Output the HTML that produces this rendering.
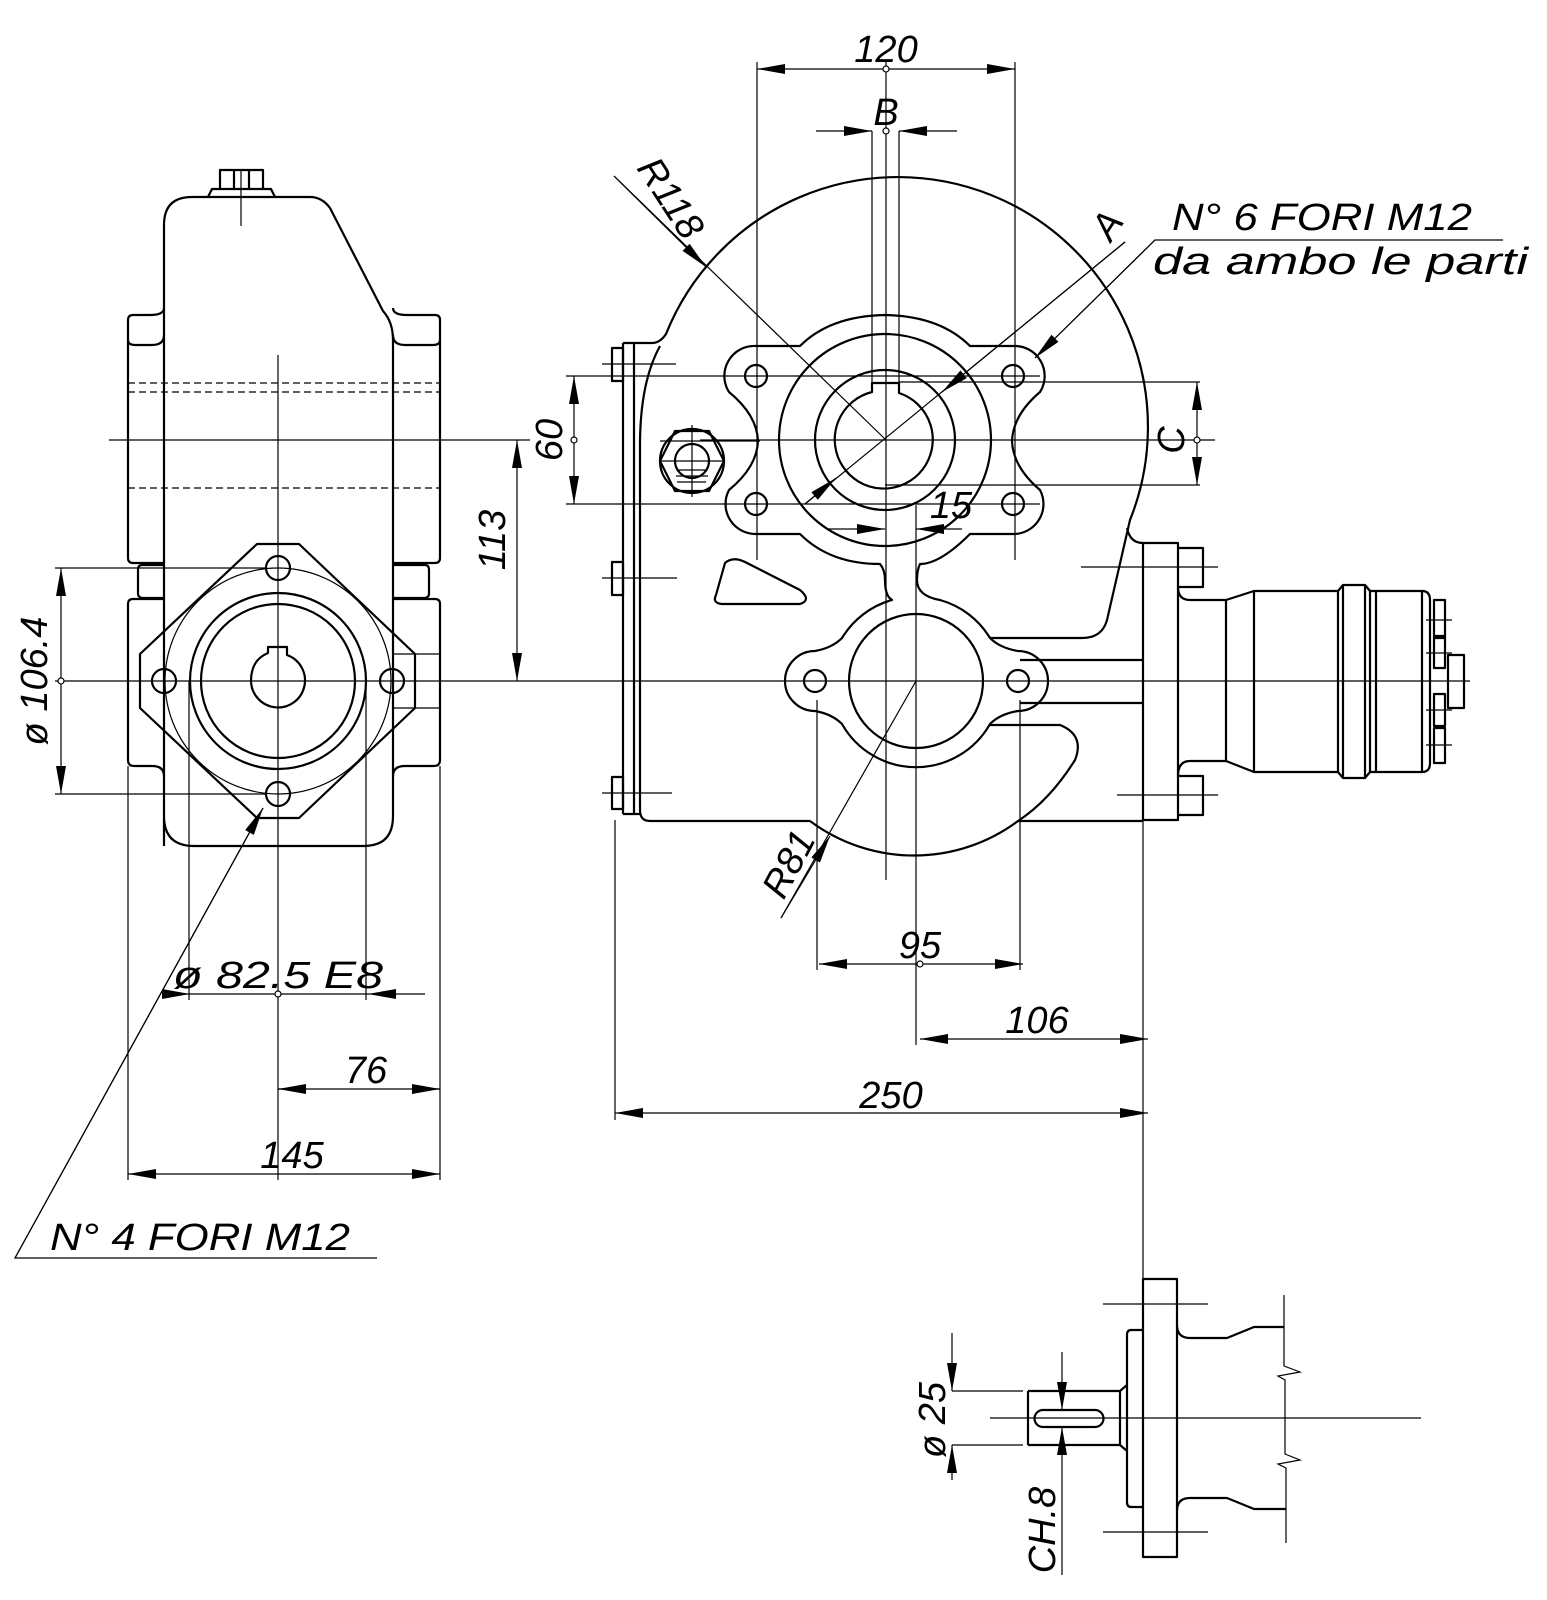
<!DOCTYPE html>
<html><head><meta charset="utf-8"><style>
html,body{margin:0;padding:0;background:#fff}
svg{display:block}
text{font-family:"Liberation Sans",sans-serif;font-style:italic;fill:#000}
</style></head><body>
<svg width="1547" height="1600" viewBox="0 0 1547 1600" xmlns="http://www.w3.org/2000/svg">
<defs>
<marker id="a" markerUnits="userSpaceOnUse" markerWidth="30" markerHeight="12" refX="28" refY="5" orient="auto"><path d="M0,0 L28,5 L0,10 Z" fill="#000"/></marker>
</defs>
<g fill="none" stroke="#000" stroke-width="2.2" stroke-linejoin="round">
<path d="M220,189 V170 H263 V189 M208,197 L212,189 H271 L275,197"/>
<path d="M234,170 V189 M249,170 V189"/>
<path d="M164,846 V225 Q164,197 192,197 H310 Q322,197 330,208 L383,311 Q393,322 393,340 V816 Q393,846 364,846 H194 Q164,846 164,816"/>
<path d="M164,308 Q164,315 150,315 H133 Q128,315 128,320 V558 Q128,563 133,563 H164 M128,340 Q128,345 135,345 H152 Q164,345 164,335"/>
<path d="M164,565 H142 Q138,565 138,570 V594 Q138,597 142,598 H164"/>
<path d="M164,599 H133 Q128,599 128,604 V760 Q128,766 134,766 H152 Q164,766 164,776"/>
<path d="M393,308 Q393,315 407,315 H435 Q440,315 440,320 V558 Q440,563 435,563 H393 M440,340 Q440,345 433,345 H405 Q393,345 393,335"/>
<path d="M393,565 H425 Q429,565 429,570 V594 Q429,597 425,598 H393"/>
<path d="M393,599 H435 Q440,599 440,604 V760 Q440,766 434,766 H405 Q393,766 393,776"/>
<path d="M257,544 H299 L415,654 V708 L299,818 H257 L140,708 V654 Z"/>
<circle cx="278" cy="681" r="88"/><circle cx="278" cy="681" r="77"/>
<path d="M268,653 Q251,660 251,681 A27,27 0 1 0 287,655 V647 H268 Z"/>
<circle cx="278" cy="568" r="12"/><circle cx="278" cy="794" r="12"/><circle cx="164" cy="681" r="12"/><circle cx="392" cy="681" r="12"/>
<path d="M623,343 H652 Q660,343 666,334 A248,248 0 1 1 1130,520 L1107,620 Q1102,638 1082,638 H990"/>
<path d="M1127,528 Q1130,543 1143,543"/>
<path d="M623,343 V814 M634,343 V814 M623,814 H640"/>
<path d="M660,346 Q641,380 640,440 V810 Q640,821 650,821 H810 M1018,821 H1143"/>
<path d="M612,348 H623 V381 H612 Z M612,562 H623 V595 H612 Z M612,777 H623 V809 H612 Z"/>
<circle cx="692" cy="461" r="32"/>
<path d="M675,431 H709 L724,461 L709,491 H675 L660,461 Z"/>
<circle cx="692" cy="461" r="17"/>
<path d="M756,346 H800 Q830,316 885,315 Q940,316 970,346 H1013 A30,30 0 0 1 1040,392 Q1013,415 1012,441 Q1013,467 1040,490 A30,30 0 0 1 1013,534 H970 Q940,564 920,564 Q917,570 917,580 Q917,596 940,600 A85,85 0 0 1 990,638 Q1000,648 1018,651 A30,30 0 0 1 1018,711 Q1000,714 990,724 A85,85 0 0 1 842,724 Q832,714 815,711 A30,30 0 0 1 815,651 Q832,648 842,638 A85,85 0 0 1 892,600 Q885,596 885,580 Q885,570 880,564 Q830,564 800,534 H756 A30,30 0 0 1 729,490 Q757,467 758,441 Q757,415 729,392 A30,30 0 0 1 756,346 Z"/>
<circle cx="885" cy="440" r="106"/><circle cx="885" cy="440" r="70"/>
<path d="M872,392 A49,49 0 1 0 899,393 V383 H872 Z"/>
<circle cx="756" cy="376" r="11"/><circle cx="1013" cy="376" r="11"/><circle cx="756" cy="504" r="11"/><circle cx="1013" cy="504" r="11"/>
<circle cx="916" cy="681" r="67"/>
<circle cx="815" cy="681" r="11"/><circle cx="1018" cy="681" r="11"/>
<path d="M810,821 A174,174 0 0 0 1018,821 M1018,821 Q1050,800 1075,760 Q1085,735 1060,725 H990"/>
<path d="M725,563 Q733,556 745,562 L800,590 Q812,600 800,604 H722 Q712,603 716,595 Z"/>
<path d="M1020,660 H1143 M1020,703 H1143"/>
<path d="M1143,543 H1178 V820 H1143 Z"/>
<path d="M1178,548 H1203 V587 H1178 M1178,776 H1203 V815 H1178"/>
<path d="M1178,587 Q1178,600 1190,600 H1226 L1254,591 H1338 L1343,585 H1365 L1370,591 H1422 Q1430,591 1430,600 V763 Q1430,772 1422,772 H1370 L1365,778 H1343 L1338,772 H1254 L1226,761 H1190 Q1178,761 1178,776"/>
<path d="M1226,600 V761 M1254,591 V772 M1338,591 V772 M1343,585 V778 M1365,585 V778 M1370,591 V772 M1376,591 V772 M1422,591 V772"/>
<path d="M1434,600 H1445 V638 H1434 Z M1434,636 H1445 V668 H1434 Z M1434,694 H1445 V726 H1434 Z M1434,728 H1445 V763 H1434 Z M1448,655 H1464 V708 H1448 Z"/>
<path d="M1143,1279 H1177 V1557 H1143 Z"/>
<path d="M1143,1330 H1131 Q1127,1330 1127,1335 V1502 Q1127,1507 1131,1507 H1143"/>
<path d="M1177,1325 Q1177,1338 1190,1338 H1227 L1254,1327 H1284 M1177,1511 Q1177,1498 1190,1498 H1227 L1254,1509 H1286"/>
<path d="M1028,1391 H1120 L1127,1385 M1028,1445 H1120 L1127,1451 M1028,1391 V1445 M1120,1391 V1445"/>
<path d="M1043,1410 H1095 A8.5,8.5 0 0 1 1095,1427 H1043 A8.5,8.5 0 0 1 1043,1410 Z"/>
</g>
<g fill="none" stroke="#000" stroke-width="1.2">
<path d="M241,170 V226"/>
<path d="M128,383 H440 M128,392 H440 M128,488 H440" stroke-dasharray="7,4"/>
<path d="M278,355 V1180 M109,440 H530 M55,681 H1470 M189,681 V1000 M366,681 V1000 M128,766 V1180 M440,766 V1180"/>
<circle cx="278" cy="681" r="113"/>
<path d="M55,568 H266 M55,794 H266 M393,654 H440 M393,708 H440"/>
<path d="M886,62 V880 M872,131 V383 M899,131 V383 M916,505 V1045 M757,62 V560 M1015,62 V560 M566,376 H1040 M566,504 H1040 M700,440 H1215 M899,382 H1200 M885,485 H1200"/>
<path d="M660,441 H760"/>
<path d="M692,425 V497 M660,461 H724 M677,470 H707 M676,476 H708 M677,482 H706"/>
<path d="M602,364 H676 M602,578 H677 M602,793 H672"/>
<path d="M817,700 V970 M1020,700 V970 M615,820 V1120 M1143,820 V1279"/>
<path d="M1081,567 H1218 M1117,795 H1218 M1426,620 H1452 M1426,653 H1452 M1426,710 H1452 M1426,745 H1452"/>
<path d="M1103,1304 H1208 M1103,1532 H1208"/>
<path d="M990,1418 H1421"/>
<path d="M1284,1295 V1366 L1300,1372 L1278,1376 L1285,1380 V1454 L1300,1460 L1278,1464 L1286,1468 V1543"/>
<path d="M952,1391 H1023 M952,1445 H1023"/>
<path d="M162,994 H190" marker-end="url(#a)"/><path d="M425,994 H368" marker-end="url(#a)"/><path d="M190,994 H368"/>
<path d="M300,1089 H278" marker-end="url(#a)"/><path d="M420,1089 H440" marker-end="url(#a)"/><path d="M278,1089 H440"/>
<path d="M284,1174 H128" marker-end="url(#a)"/><path d="M284,1174 H440" marker-end="url(#a)"/>
<path d="M920,964 H819" marker-end="url(#a)"/><path d="M920,964 H1023" marker-end="url(#a)"/>
<path d="M1030,1039 H920" marker-end="url(#a)"/><path d="M1030,1039 H1148" marker-end="url(#a)"/>
<path d="M880,1113 H615" marker-end="url(#a)"/><path d="M880,1113 H1148" marker-end="url(#a)"/>
<path d="M886,69 H757" marker-end="url(#a)"/><path d="M886,69 H1015" marker-end="url(#a)"/>
<path d="M816,131 H872" marker-end="url(#a)"/><path d="M957,131 H899" marker-end="url(#a)"/>
<path d="M61,681 V568" marker-end="url(#a)"/><path d="M61,681 V794" marker-end="url(#a)"/>
<path d="M517,560 V440" marker-end="url(#a)"/><path d="M517,560 V681" marker-end="url(#a)"/>
<path d="M574,440 V376" marker-end="url(#a)"/><path d="M574,440 V504" marker-end="url(#a)"/>
<path d="M1197,440 V382" marker-end="url(#a)"/><path d="M1197,440 V485" marker-end="url(#a)"/>
<path d="M827,529 H885" marker-end="url(#a)"/><path d="M962,529 H916" marker-end="url(#a)"/>
<path d="M614,176 L886,440"/><path d="M614,176 L706,267" marker-end="url(#a)"/>
<path d="M1125,242 L805,504"/><path d="M1125,242 L942,392" marker-end="url(#a)"/><path d="M805,504 L836,478" marker-end="url(#a)"/>
<path d="M1503,240 H1155 L1035,358" /><path d="M1155,240 L1035,358" marker-end="url(#a)"/>
<path d="M916,681 L781,918"/><path d="M781,918 L830,836" marker-end="url(#a)"/>
<path d="M377,1258 H15 L263,808"/><path d="M15,1258 L263,808" marker-end="url(#a)"/>
<path d="M952,1333 V1391" marker-end="url(#a)"/><path d="M952,1480 V1445" marker-end="url(#a)"/>
<path d="M1062,1352 V1410" marker-end="url(#a)"/><path d="M1062,1575 V1427" marker-end="url(#a)"/>
</g>
<g fill="#fff" stroke="#000" stroke-width="1.2">
<circle cx="278" cy="994" r="3"/><circle cx="886" cy="69" r="3"/><circle cx="886" cy="131" r="3"/><circle cx="920" cy="964" r="3"/><circle cx="61" cy="681" r="3"/><circle cx="574" cy="440" r="3"/><circle cx="1197" cy="440" r="3"/>
</g>
<g font-size="38">
<text x="886" y="62" text-anchor="middle">120</text>
<text x="886" y="125" text-anchor="middle">B</text>
<text x="278" y="988" text-anchor="middle" textLength="210" lengthAdjust="spacingAndGlyphs">ø 82.5 E8</text>
<text x="366" y="1083" text-anchor="middle">76</text>
<text x="292" y="1168" text-anchor="middle">145</text>
<text x="920" y="958" text-anchor="middle">95</text>
<text x="1037" y="1033" text-anchor="middle">106</text>
<text x="891" y="1108" text-anchor="middle">250</text>
<text x="951" y="518" text-anchor="middle">15</text>
<text x="1172" y="230" textLength="300" lengthAdjust="spacingAndGlyphs">N° 6 FORI M12</text>
<text x="1153" y="274" textLength="375" lengthAdjust="spacingAndGlyphs">da ambo le parti</text>
<text x="50" y="1250" textLength="300" lengthAdjust="spacingAndGlyphs">N° 4 FORI M12</text>
<text transform="translate(47,681) rotate(-90)" text-anchor="middle">ø 106.4</text>
<text transform="translate(505,540) rotate(-90)" text-anchor="middle">113</text>
<text transform="translate(562,440) rotate(-90)" text-anchor="middle">60</text>
<text transform="translate(1184,440) rotate(-90)" text-anchor="middle">C</text>
<text transform="translate(660,205) rotate(57)" text-anchor="middle">R118</text>
<text transform="translate(1118,232) rotate(-57)" text-anchor="middle">A</text>
<text transform="translate(800,870) rotate(-62)" text-anchor="middle">R81</text>
<text transform="translate(945,1420) rotate(-90)" text-anchor="middle">ø 25</text>
<text transform="translate(1055,1530) rotate(-90)" text-anchor="middle">CH.8</text>
</g>
</svg>
</body></html>
